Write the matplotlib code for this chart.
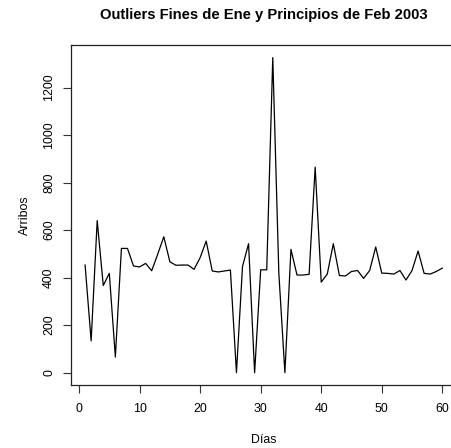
import matplotlib
matplotlib.use("Agg")
import matplotlib.pyplot as plt
import numpy as np

plt.rcParams['font.family'] = ['Liberation Sans', 'DejaVu Sans']

dias = np.arange(1, 61)
arribos = [453, 134, 640, 367, 418, 66, 523, 523, 449, 445,
           460, 429, 499, 572, 467, 452, 453, 453, 435, 484,
           554, 428, 424, 428, 432, 0, 447, 543, 0, 433,
           433, 1326, 419, 0, 519, 411, 411, 414, 865, 381,
           415, 543, 409, 407, 426, 430, 397, 430, 529, 419,
           418, 415, 430, 390, 430, 512, 418, 415, 426, 440]
xticks = [0, 10, 20, 30, 40, 50, 60]
yticks = [0, 200, 400, 600, 800, 1000, 1200]

W, H = 451, 448
fig = plt.figure(figsize=(W / 100, H / 100), dpi=100)
left, right, top, bottom = 70.8, 456.6, 45.0, 385.3
ax = fig.add_axes([left / W, 1 - bottom / H, (right - left) / W, (bottom - top) / H])

ax.plot(dias, arribos, color='black', linewidth=0.9)

# R-style 4% padding around the data range
xr = max(dias) - min(dias)
ax.set_xlim(min(dias) - 0.04 * xr, max(dias) + 0.04 * xr)
yr = max(arribos) - min(arribos)
ax.set_ylim(min(arribos) - 0.04 * yr, max(arribos) + 0.04 * yr)

ax.set_xticks(xticks)
ax.set_yticks(yticks)
ax.set_yticklabels([str(v) for v in yticks], rotation=90, va='center')
ax.tick_params(axis='both', direction='out', length=5.5, width=0.8,
               labelsize=8.9, color='#333333')
ax.tick_params(axis='x', pad=7.6)
ax.tick_params(axis='y', pad=5.8)
for s in ax.spines.values():
    s.set_linewidth(0.9)
    s.set_color('#222222')

ax.set_xlabel('Días', fontsize=8.9, labelpad=13)
ax.set_ylabel('Arribos', fontsize=8.9, labelpad=9)
fig.text(263.7 / W, 1 - 15.5 / H, 'Outliers Fines de Ene y Principios de Feb 2003',
         ha='center', va='center', fontsize=10.6, fontweight='bold')

fig.savefig('out.png', dpi=100)
